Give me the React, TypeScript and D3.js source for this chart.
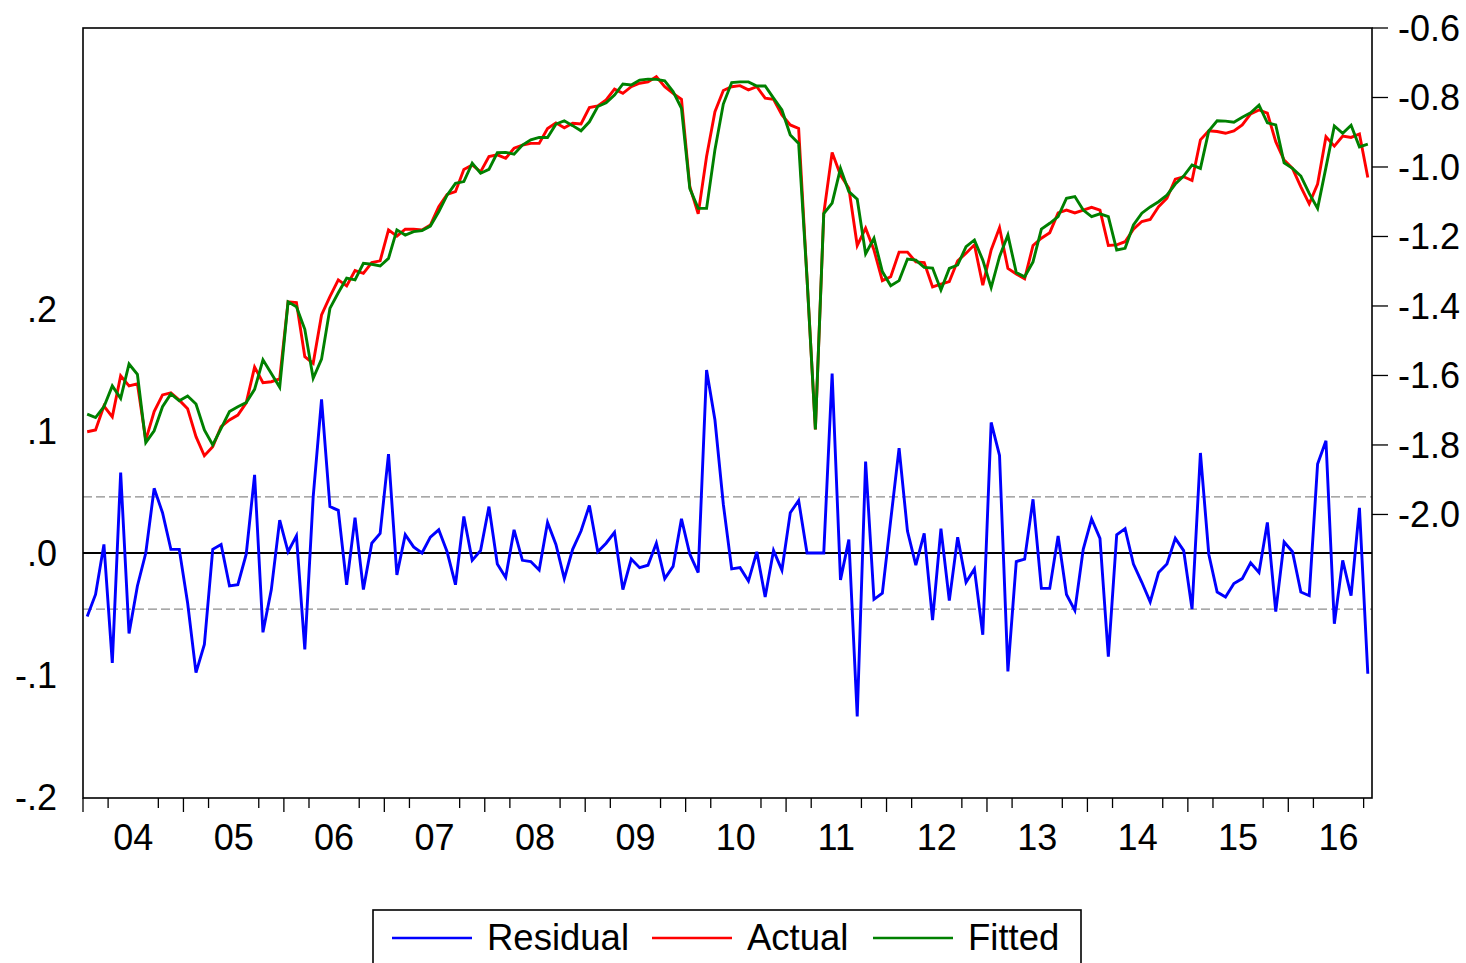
import React, { useEffect, useRef } from 'react';
import * as d3 from 'd3';

// monthly sample 2004M01 .. 2016M10
const startYear = 2004;
const yearLabels = ['04', '05', '06', '07', '08', '09', '10', '11', '12', '13', '14', '15', '16'];

const residual = [
  -0.052, -0.034, 0.007, -0.090, 0.066, -0.066, -0.027, 0.000, 0.053, 0.033, 0.003, 0.003,
  -0.041, -0.098, -0.075, 0.003, 0.007, -0.027, -0.026, -0.001, 0.064, -0.065, -0.030, 0.027,
  0.001, 0.014, -0.079, 0.046, 0.126, 0.038, 0.035, -0.026, 0.029, -0.030, 0.008, 0.016,
  0.081, -0.018, 0.015, 0.005, 0.000, 0.013, 0.019, 0.001, -0.026, 0.030, -0.006, 0.002,
  0.038, -0.009, -0.020, 0.019, -0.006, -0.007, -0.014, 0.025, 0.007, -0.021, 0.003, 0.018,
  0.039, 0.001, 0.008, 0.017, -0.030, -0.005, -0.012, -0.010, 0.008, -0.021, -0.011, 0.028,
  -0.001, -0.016, 0.150, 0.109, 0.040, -0.013, -0.012, -0.023, 0.001, -0.036, 0.002, -0.014,
  0.033, 0.043, 0.000, 0.000, 0.000, 0.147, -0.022, 0.011, -0.134, 0.075, -0.038, -0.033,
  0.027, 0.086, 0.018, -0.010, 0.016, -0.055, 0.020, -0.039, 0.013, -0.024, -0.013, -0.067,
  0.107, 0.080, -0.097, -0.007, -0.005, 0.044, -0.029, -0.029, 0.014, -0.034, -0.047, 0.003,
  0.028, 0.012, -0.085, 0.015, 0.020, -0.009, -0.024, -0.040, -0.016, -0.009, 0.012, 0.002,
  -0.046, 0.082, -0.001, -0.032, -0.036, -0.025, -0.021, -0.008, -0.016, 0.025, -0.048, 0.009,
  0.001, -0.032, -0.035, 0.073, 0.092, -0.058, -0.006, -0.035, 0.037, -0.099
];

const actual = [
  -1.762, -1.757, -1.688, -1.719, -1.601, -1.630, -1.624, -1.786, -1.704, -1.656, -1.650, -1.671,
  -1.696, -1.776, -1.831, -1.805, -1.747, -1.728, -1.714, -1.679, -1.576, -1.621, -1.618, -1.610,
  -1.388, -1.390, -1.546, -1.565, -1.426, -1.373, -1.325, -1.342, -1.298, -1.306, -1.275, -1.270,
  -1.181, -1.199, -1.179, -1.179, -1.181, -1.167, -1.114, -1.079, -1.071, -1.007, -0.994, -1.014,
  -0.970, -0.965, -0.975, -0.946, -0.937, -0.932, -0.932, -0.889, -0.873, -0.887, -0.874, -0.876,
  -0.829, -0.824, -0.807, -0.776, -0.788, -0.769, -0.759, -0.755, -0.740, -0.769, -0.788, -0.805,
  -1.057, -1.135, -0.970, -0.841, -0.780, -0.769, -0.766, -0.778, -0.769, -0.802, -0.805, -0.850,
  -0.879, -0.889, -1.320, -1.755, -1.134, -0.958, -1.023, -1.061, -1.226, -1.176, -1.239, -1.327,
  -1.316, -1.245, -1.245, -1.273, -1.275, -1.345, -1.337, -1.330, -1.270, -1.248, -1.224, -1.340,
  -1.239, -1.175, -1.292, -1.308, -1.322, -1.226, -1.205, -1.189, -1.132, -1.124, -1.132, -1.124,
  -1.116, -1.124, -1.226, -1.224, -1.215, -1.179, -1.157, -1.151, -1.114, -1.090, -1.035, -1.028,
  -1.039, -0.922, -0.896, -0.898, -0.903, -0.896, -0.879, -0.847, -0.836, -0.845, -0.927, -0.980,
  -1.004, -1.057, -1.106, -1.049, -0.913, -0.940, -0.911, -0.915, -0.905, -1.030
];

const fitted = [
  -1.711, -1.721, -1.690, -1.630, -1.666, -1.567, -1.597, -1.793, -1.759, -1.690, -1.653, -1.673,
  -1.659, -1.682, -1.757, -1.800, -1.752, -1.704, -1.690, -1.678, -1.640, -1.555, -1.594, -1.634,
  -1.388, -1.402, -1.467, -1.608, -1.553, -1.407, -1.362, -1.320, -1.325, -1.277, -1.280, -1.285,
  -1.263, -1.181, -1.196, -1.186, -1.183, -1.170, -1.129, -1.081, -1.047, -1.042, -0.989, -1.018,
  -1.007, -0.959, -0.958, -0.963, -0.937, -0.922, -0.915, -0.915, -0.877, -0.867, -0.881, -0.896,
  -0.870, -0.826, -0.815, -0.793, -0.761, -0.764, -0.750, -0.747, -0.748, -0.752, -0.783, -0.831,
  -1.062, -1.119, -1.119, -0.950, -0.819, -0.757, -0.755, -0.755, -0.767, -0.767, -0.802, -0.836,
  -0.908, -0.932, -1.320, -1.755, -1.134, -1.104, -1.004, -1.071, -1.093, -1.250, -1.205, -1.301,
  -1.342, -1.327, -1.265, -1.268, -1.289, -1.291, -1.354, -1.292, -1.282, -1.229, -1.210, -1.268,
  -1.347, -1.258, -1.196, -1.304, -1.316, -1.273, -1.179, -1.162, -1.143, -1.090, -1.085, -1.124,
  -1.143, -1.135, -1.143, -1.239, -1.234, -1.167, -1.133, -1.115, -1.100, -1.081, -1.049, -1.026,
  -0.994, -1.004, -0.896, -0.867, -0.868, -0.871, -0.857, -0.844, -0.822, -0.873, -0.879, -0.988,
  -1.004, -1.026, -1.076, -1.119, -1.001, -0.882, -0.903, -0.880, -0.942, -0.934
];

const leftTicks = [0.2, 0.1, 0.0, -0.1, -0.2];
const leftTickLabels = ['.2', '.1', '.0', '-.1', '-.2'];
const rightTicks = [-0.6, -0.8, -1.0, -1.2, -1.4, -1.6, -1.8, -2.0];
const seBand = 0.046;

const legendItems = [
  { name: 'Residual', color: '#0000ff' },
  { name: 'Actual', color: '#ff0000' },
  { name: 'Fitted', color: '#008000' }
];

const FONT = '"Liberation Sans", Arial, Helvetica, sans-serif';

const App = () => {
  const svgRef = useRef(null);

  useEffect(() => {
    const W = 1466;
    const H = 963;
    const left = 83, right = 1372, top = 28, bottom = 798;
    const nMonths = residual.length;

    const svg = d3.select(svgRef.current);
    svg.selectAll('*').remove();

    svg.append('rect').attr('width', W).attr('height', H).attr('fill', '#fff');

    // scales
    const x = d3.scaleLinear().domain([0, nMonths]).range([left, right]);
    const yL = d3.scaleLinear().domain([-0.2008, 0.4303]).range([bottom, top]);
    const yR = d3.scaleLinear().domain([-2.816, -0.6]).range([bottom, top]);

    // std. error band and zero line
    [seBand, -seBand].forEach(v => {
      svg.append('line')
        .attr('x1', left).attr('x2', right)
        .attr('y1', yL(v)).attr('y2', yL(v))
        .attr('stroke', '#8c8c8c')
        .attr('stroke-width', 1.2)
        .attr('stroke-dasharray', '9,4');
    });
    svg.append('line')
      .attr('x1', left).attr('x2', right)
      .attr('y1', yL(0)).attr('y2', yL(0))
      .attr('stroke', '#000')
      .attr('stroke-width', 2);

    const lineL = d3.line().x((d, i) => x(i + 0.5)).y(d => yL(d));
    const lineR = d3.line().x((d, i) => x(i + 0.5)).y(d => yR(d));

    svg.append('path').datum(residual)
      .attr('d', lineL).attr('fill', 'none')
      .attr('stroke', legendItems[0].color).attr('stroke-width', 2.9);
    svg.append('path').datum(actual)
      .attr('d', lineR).attr('fill', 'none')
      .attr('stroke', legendItems[1].color).attr('stroke-width', 2.9);
    svg.append('path').datum(fitted)
      .attr('d', lineR).attr('fill', 'none')
      .attr('stroke', legendItems[2].color).attr('stroke-width', 2.9);

    // frame
    svg.append('rect')
      .attr('x', left).attr('y', top)
      .attr('width', right - left).attr('height', bottom - top)
      .attr('fill', 'none').attr('stroke', '#000').attr('stroke-width', 1.6);

    // left axis
    leftTicks.forEach((v, i) => {
      svg.append('text')
        .attr('x', 57).attr('y', yL(v)).attr('dy', '0.36em')
        .attr('text-anchor', 'end')
        .attr('font-family', FONT).attr('font-size', 36)
        .text(leftTickLabels[i]);
    });

    // right axis
    rightTicks.forEach(v => {
      svg.append('line')
        .attr('x1', right).attr('x2', right + 16)
        .attr('y1', yR(v)).attr('y2', yR(v))
        .attr('stroke', '#000').attr('stroke-width', 1.3);
      svg.append('text')
        .attr('x', 1398).attr('y', yR(v)).attr('dy', '0.36em')
        .attr('font-family', FONT).attr('font-size', 36)
        .text(v.toFixed(1));
    });

    // bottom axis: quarterly ticks, year labels at mid-year
    for (let m = 0; m <= nMonths; m += 3) {
      if (m % 12 === 6) continue;
      svg.append('line')
        .attr('x1', x(m)).attr('x2', x(m))
        .attr('y1', bottom).attr('y2', bottom + (m % 12 === 0 ? 14 : 10))
        .attr('stroke', '#000').attr('stroke-width', 1.3);
    }
    yearLabels.forEach((lab, k) => {
      svg.append('text')
        .attr('x', x(k * 12 + 6)).attr('y', 850)
        .attr('text-anchor', 'middle')
        .attr('font-family', FONT).attr('font-size', 36)
        .text(lab);
    });

    // legend
    const lg = svg.append('g');
    lg.append('rect')
      .attr('x', 373).attr('y', 910).attr('width', 708).attr('height', 70)
      .attr('fill', '#fff').attr('stroke', '#000').attr('stroke-width', 1.6);
    const legendX = [392, 652, 873];
    legendItems.forEach((it, i) => {
      lg.append('line')
        .attr('x1', legendX[i]).attr('x2', legendX[i] + 80)
        .attr('y1', 938).attr('y2', 938)
        .attr('stroke', it.color).attr('stroke-width', 2.6);
      lg.append('text')
        .attr('x', legendX[i] + 95).attr('y', 950)
        .attr('font-family', FONT).attr('font-size', 36.5)
        .text(it.name);
    });
  }, []);

  return (
    <svg
      ref={svgRef}
      width={1466}
      height={963}
      style={{ position: 'absolute', left: 0, top: 0, display: 'block' }}
    />
  );
};

export default App;
